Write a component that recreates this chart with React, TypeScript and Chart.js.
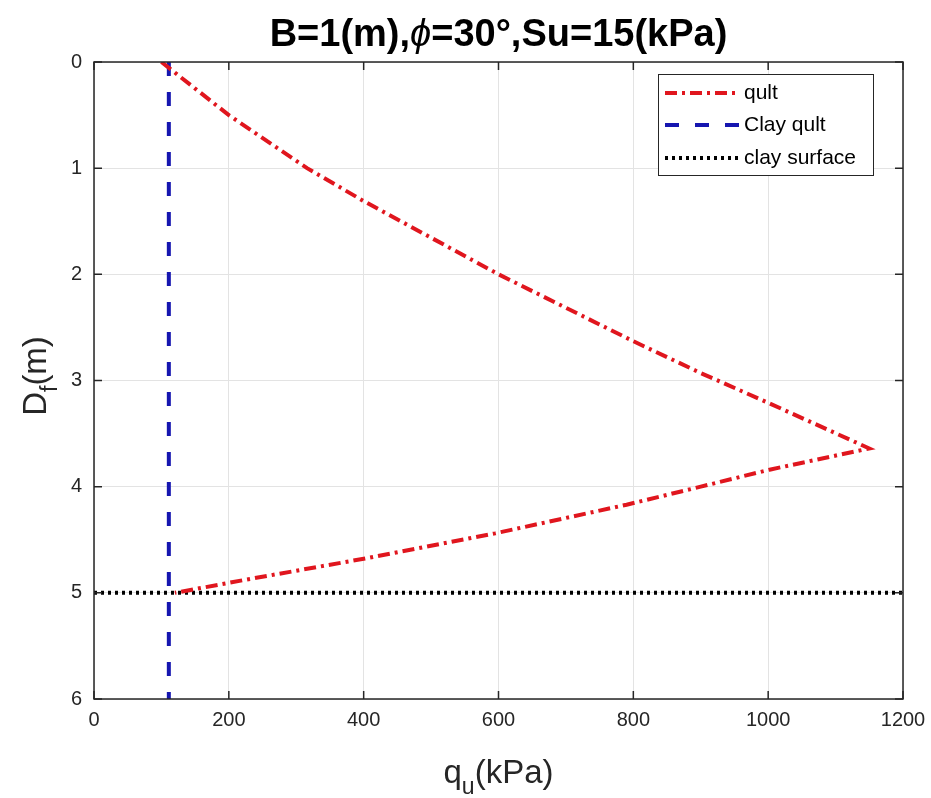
import React, { useEffect, useRef } from "react";
import { Chart, registerables } from "chart.js";

Chart.register(...registerables);

// ---- data ----
const qultValues = [100, 200, 316, 400, 600, 800, 900, 1000, 1150, 1002, 900, 790, 595, 408, 222, 120];
const qultDepths = [0, 0.5, 1, 1.31, 2, 2.63, 2.93, 3.21, 3.64, 3.84, 4.0, 4.17, 4.44, 4.67, 4.88, 5.0];
const clayQultValues = [111, 111];
const clayQultDepths = [0, 6];
const claySurfaceValues = [0, 1200];
const claySurfaceDepths = [5, 5];
const xTicks = [0, 200, 400, 600, 800, 1000, 1200];
const yTicks = [0, 1, 2, 3, 4, 5, 6];
const seriesLabels = ["qult", "Clay qult", "clay surface"];

const FONT = "'Liberation Sans', Arial, sans-serif";
const AX = "#262626";

const pairs = (xs: number[], ys: number[]) => xs.map((x, i) => ({ x, y: ys[i] }));

const matlabPlugin = {
  id: "matlabDecor",
  afterDraw(chart: any) {
    const ctx = chart.ctx as CanvasRenderingContext2D;
    const a = chart.chartArea;
    const xs = chart.scales.x;
    const ys = chart.scales.y;
    ctx.save();
    // box + inward ticks
    ctx.strokeStyle = AX;
    ctx.lineWidth = 1.5;
    ctx.strokeRect(a.left, a.top, a.right - a.left, a.bottom - a.top);
    const tl = 8;
    ctx.beginPath();
    xTicks.forEach((v) => {
      const px = xs.getPixelForValue(v);
      ctx.moveTo(px, a.bottom);
      ctx.lineTo(px, a.bottom - tl);
      ctx.moveTo(px, a.top);
      ctx.lineTo(px, a.top + tl);
    });
    yTicks.forEach((v) => {
      const py = ys.getPixelForValue(v);
      ctx.moveTo(a.left, py);
      ctx.lineTo(a.left + tl, py);
      ctx.moveTo(a.right, py);
      ctx.lineTo(a.right - tl, py);
    });
    ctx.stroke();

    // title
    const cx = (a.left + a.right) / 2;
    const tSize = 38;
    const parts = [
      { t: "B=1(m),", f: `bold ${tSize}px ${FONT}` },
      { t: "\u03d5", f: `italic ${tSize}px ${FONT}` },
      { t: "=30\u00b0,Su=15(kPa)", f: `bold ${tSize}px ${FONT}` },
    ];
    let total = 0;
    parts.forEach((p) => {
      ctx.font = p.f;
      total += ctx.measureText(p.t).width;
    });
    let x = cx - total / 2;
    ctx.fillStyle = "#000";
    ctx.textBaseline = "alphabetic";
    ctx.textAlign = "left";
    parts.forEach((p) => {
      ctx.font = p.f;
      ctx.fillText(p.t, x, 46);
      x += ctx.measureText(p.t).width;
    });

    // x-axis title q_u(kPa)
    const lSize = 33;
    const subSize = 23;
    ctx.fillStyle = AX;
    const xParts = [
      { t: "q", f: `${lSize}px ${FONT}`, dy: 0 },
      { t: "u", f: `${subSize}px ${FONT}`, dy: 11 },
      { t: "(kPa)", f: `${lSize}px ${FONT}`, dy: 0 },
    ];
    total = 0;
    xParts.forEach((p) => {
      ctx.font = p.f;
      total += ctx.measureText(p.t).width;
    });
    x = cx - total / 2;
    xParts.forEach((p) => {
      ctx.font = p.f;
      ctx.fillText(p.t, x, 783 + p.dy);
      x += ctx.measureText(p.t).width;
    });

    // y-axis title D_f(m)
    const cy = 376;
    const yParts = [
      { t: "D", f: `${lSize}px ${FONT}`, dy: 0 },
      { t: "f", f: `${subSize}px ${FONT}`, dy: 11 },
      { t: "(m)", f: `${lSize}px ${FONT}`, dy: 0 },
    ];
    total = 0;
    yParts.forEach((p) => {
      ctx.font = p.f;
      total += ctx.measureText(p.t).width;
    });
    ctx.save();
    ctx.translate(46, cy);
    ctx.rotate(-Math.PI / 2);
    x = -total / 2;
    yParts.forEach((p) => {
      ctx.font = p.f;
      ctx.fillText(p.t, x, p.dy);
      x += ctx.measureText(p.t).width;
    });
    ctx.restore();

    // legend
    const lx = 658, ly = 74, lw = 215, lh = 101;
    ctx.fillStyle = "#fff";
    ctx.fillRect(lx, ly, lw, lh);
    ctx.strokeStyle = AX;
    ctx.lineWidth = 1;
    ctx.strokeRect(lx + 0.5, ly + 0.5, lw, lh);
    const rows = [93, 125, 158];
    chart.data.datasets.forEach((ds: any, i: number) => {
      const yy = rows[i];
      ctx.save();
      ctx.strokeStyle = ds.borderColor;
      ctx.lineWidth = ds.borderWidth;
      ctx.setLineDash(ds.borderDash || []);
      ctx.beginPath();
      ctx.moveTo(665, yy);
      ctx.lineTo(739, yy);
      ctx.stroke();
      ctx.restore();
      ctx.fillStyle = "#000";
      ctx.font = `21px ${FONT}`;
      ctx.textBaseline = "middle";
      ctx.fillText(seriesLabels[i], 744, yy);
    });
    ctx.restore();
  },
};

export default function App() {
  const ref = useRef<HTMLCanvasElement>(null);
  useEffect(() => {
    if (!ref.current) return;
    const chart = new Chart(ref.current, {
      type: "scatter",
      data: {
        datasets: [
          {
            label: seriesLabels[0],
            data: pairs(qultValues, qultDepths),
            showLine: true,
            borderColor: "#e0161e",
            backgroundColor: "#e0161e",
            borderWidth: 4,
            borderDash: [12, 5, 3, 5],
            pointRadius: 0,
          },
          {
            label: seriesLabels[1],
            data: pairs(clayQultValues, clayQultDepths),
            showLine: true,
            borderColor: "#1616b0",
            backgroundColor: "#1616b0",
            borderWidth: 4,
            borderDash: [14, 16],
            pointRadius: 0,
          },
          {
            label: seriesLabels[2],
            data: pairs(claySurfaceValues, claySurfaceDepths),
            showLine: true,
            borderColor: "#000",
            backgroundColor: "#000",
            borderWidth: 4,
            borderDash: [3, 4],
            pointRadius: 0,
          },
        ],
      },
      options: {
        responsive: false,
        animation: false,
        devicePixelRatio: 1,
        layout: { padding: { top: 62, right: 28, left: 0, bottom: 0 } },
        plugins: {
          legend: { display: false },
          title: { display: false },
          tooltip: { enabled: false },
        },
        scales: {
          x: {
            type: "linear",
            min: 0,
            max: 1200,
            afterBuildTicks: (s: any) => {
              s.ticks = xTicks.map((v) => ({ value: v }));
            },
            afterFit: (s: any) => {
              s.height = 99;
              s.paddingLeft = 0;
              s.paddingRight = 0;
            },
            ticks: {
              font: { family: FONT, size: 20 },
              color: AX,
              padding: 9,
              maxRotation: 0,
              callback: (v: any) => String(v),
            },
            grid: { color: "#e3e3e3", drawTicks: false, lineWidth: 1 },
            border: { display: false },
          },
          y: {
            type: "linear",
            min: 0,
            max: 6,
            reverse: true,
            afterBuildTicks: (s: any) => {
              s.ticks = yTicks.map((v) => ({ value: v }));
            },
            afterFit: (s: any) => {
              s.width = 94;
              s.paddingTop = 0;
              s.paddingBottom = 0;
            },
            ticks: {
              font: { family: FONT, size: 20 },
              color: AX,
              padding: 12,
              callback: (v: any) => String(v),
            },
            grid: { color: "#e3e3e3", drawTicks: false, lineWidth: 1 },
            border: { display: false },
          },
        },
      },
      plugins: [matlabPlugin],
    } as any);
    return () => chart.destroy();
  }, []);
  return (
    <div style={{ position: "fixed", left: 0, top: 0, width: 931, height: 798, background: "#fff" }}>
      <canvas ref={ref} width={931} height={798} />
    </div>
  );
}
